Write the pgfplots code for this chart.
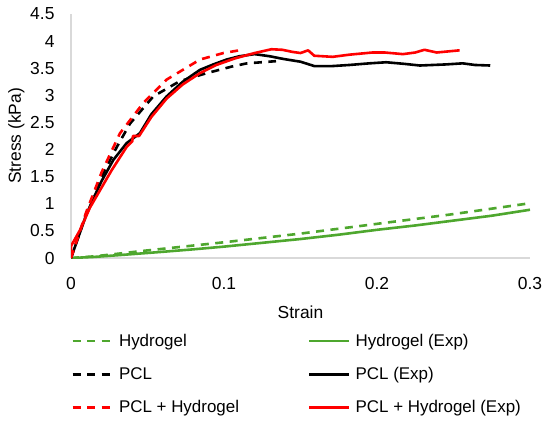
\documentclass[border=0pt]{standalone}
\usepackage{fontspec}
\setmainfont{Liberation Sans}
\usepackage{pgfplots}
\pgfplotsset{compat=1.18}
\definecolor{xlgreen}{RGB}{78,167,46}
\definecolor{axgray}{RGB}{217,217,217}
\newcommand{\cw}[1]{\makebox[184bp][l]{#1}}
\begin{document}
\begin{tikzpicture}[x=1bp,y=1bp]
\useasboundingbox (0,0) rectangle (550,422);
\begin{axis}[
  at={(71bp,164bp)}, anchor=south west,
  scale only axis, width=459bp, height=244bp,
  xmin=0, xmax=0.3, ymin=0, ymax=4.5,
  xtick={0,0.1,0.2,0.3},
  ytick={0,0.5,1,1.5,2,2.5,3,3.5,4,4.5},
  axis lines=left,
  axis line style={draw=axgray, line width=1.2bp, -},
  major tick length=0pt,
  /pgf/number format/assume math mode=true,
  tick label style={font=\fontsize{17.5}{20}\selectfont},
  label style={font=\fontsize{17.5}{20}\selectfont},
  xticklabel style={yshift=-16bp},
  yticklabel style={xshift=-13bp},
  xlabel={Strain},
  ylabel={Stress (kPa)},
  xlabel style={yshift=-9bp},
  ylabel style={yshift=-1bp},
  legend columns=2,
  legend cell align=left,
  legend style={draw=none, fill=none, at={(-0.006,-0.295)}, anchor=north west,
    font=\fontsize{17}{20}\selectfont,
    nodes={inner xsep=5bp, inner ysep=2bp},
    /tikz/every odd column/.append style={column sep=0bp},
    /tikz/every even column/.append style={column sep=0bp},
    row sep=15.5bp},
  legend image code/.code={\draw[#1] (0bp,0bp) -- (40bp,0bp);},
  every axis plot/.append style={line width=2.6bp, line join=round},
]
\addplot[xlgreen, line width=2.6bp, dash pattern=on 8bp off 6.5bp] coordinates {
(0,0) (0.015,0.03) (0.05,0.14) (0.1,0.29) (0.15,0.45) (0.2,0.63) (0.25,0.81) (0.3,1.01)};
\addlegendentry{\cw{Hydrogel}}
\addplot[xlgreen, line width=2.6bp] coordinates {
(0,0) (0.015,0.02) (0.03,0.05) (0.058,0.11) (0.08,0.16) (0.10,0.21) (0.125,0.28) (0.15,0.35) (0.175,0.43) (0.2,0.52) (0.225,0.60) (0.25,0.69) (0.275,0.78) (0.3,0.89)};
\addlegendentry{Hydrogel (Exp)}
\addplot[black, line width=2.6bp, dash pattern=on 8bp off 6.5bp] coordinates {
(0,0) (0.01,0.82) (0.02,1.50) (0.03,2.05) (0.0386,2.48) (0.0538,2.98) (0.071,3.26) (0.0887,3.41) (0.097,3.47) (0.105,3.53) (0.115,3.59) (0.134,3.63)};
\addlegendentry{\cw{PCL}}
\addplot[black, line width=2.6bp] coordinates {
(0,0) (0.005,0.40) (0.01,0.80) (0.015,1.12) (0.02,1.42) (0.0277,1.81) (0.0364,2.12) (0.045,2.30) (0.0525,2.65) (0.0625,2.98) (0.073,3.25) (0.0843,3.47) (0.093,3.57) (0.1017,3.66) (0.11,3.72) (0.12,3.76) (0.13,3.72) (0.139,3.67) (0.150,3.62) (0.159,3.54) (0.171,3.54) (0.182,3.56) (0.195,3.59) (0.206,3.61) (0.218,3.58) (0.228,3.55) (0.245,3.57) (0.256,3.59) (0.264,3.56) (0.274,3.55)};
\addlegendentry{PCL (Exp)}
\addplot[red, line width=2.6bp, dash pattern=on 8bp off 6.5bp] coordinates {
(0,0) (0.01,0.85) (0.02,1.58) (0.032,2.30) (0.0473,2.86) (0.0625,3.29) (0.0843,3.66) (0.0996,3.78) (0.11,3.83)};
\addlegendentry{\cw{PCL + Hydrogel}}
\addplot[red, line width=2.6bp] coordinates {
(0,0) (0,0.22) (0.006,0.52) (0.0124,0.93) (0.02,1.30) (0.0266,1.62) (0.0364,2.05) (0.040,2.15) (0.0405,2.25) (0.0445,2.25) (0.0525,2.60) (0.0625,2.94) (0.073,3.20) (0.0843,3.41) (0.095,3.56) (0.107,3.68) (0.12,3.78) (0.131,3.85) (0.138,3.84) (0.145,3.80) (0.150,3.78) (0.155,3.83) (0.159,3.73) (0.171,3.71) (0.182,3.75) (0.197,3.79) (0.205,3.79) (0.217,3.76) (0.225,3.79) (0.231,3.84) (0.239,3.79) (0.254,3.83)};
\addlegendentry{PCL + Hydrogel (Exp)}
\end{axis}
\end{tikzpicture}
\end{document}
